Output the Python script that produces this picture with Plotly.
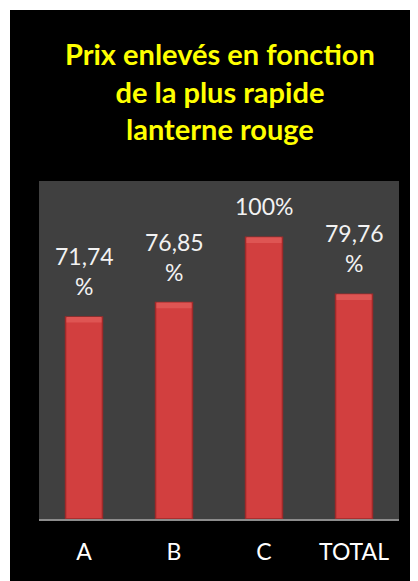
import plotly.graph_objects as go

categories = ["A", "B", "C", "TOTAL"]
values = [71.74, 76.85, 100.0, 79.76]
value_labels = ["71,74<br>%", "76,85<br>%", "100%", "79,76<br>%"]
title_text = "Prix enlevés en fonction<br>de la plus rapide<br>lanterne rouge"

W, H = 418, 581
OFF = 8  # page body margin in the browser
L, R, T, B = 39 - OFF, 19 + OFF, 181 - OFF, 62 + OFF
pw, ph = W - L - R, H - T - B
YMAX = 120
cap = 2.0  # bevel cap height in data units

fig = go.Figure()
fig.add_trace(go.Bar(
    x=categories, y=values, width=0.41,
    marker=dict(color="#d23f3f", line=dict(color="#9e2a2a", width=1.5)),
    hoverinfo="skip",
))
fig.add_trace(go.Bar(
    x=categories, y=[cap] * len(values), base=[v - cap for v in values], width=0.39,
    marker=dict(color="#de5553", line=dict(width=0)),
    hoverinfo="skip",
))

for c, v, t in zip(categories, values, value_labels):
    fig.add_annotation(x=c, y=v, text=t, showarrow=False, yanchor="bottom",
                       yshift=15, font=dict(family="Lato", size=23, color="#f2f2f2"))

fig.update_layout(
    width=W, height=H,
    paper_bgcolor="black", plot_bgcolor="#404040",
    margin=dict(l=L, r=R, t=T, b=B, autoexpand=False),
    showlegend=False, barmode="overlay",
    title=dict(text="<b>" + title_text + "</b>", x=0.507, xanchor="center",
               y=1 - 57 / H, yanchor="top",
               font=dict(family="Lato", size=29, color="#ffff00")),
    shapes=[
        dict(type="rect", xref="paper", yref="paper",
             x0=-L / pw, x1=(2 - L) / pw,
             y0=-B / ph, y1=1 + T / ph,
             fillcolor="white", line=dict(width=0)),
        dict(type="rect", xref="paper", yref="paper",
             x0=-L / pw, x1=1 + R / pw,
             y0=1 + (T - 2) / ph, y1=1 + T / ph,
             fillcolor="white", line=dict(width=0)),
    ],
)
fig.update_xaxes(showline=True, linecolor="#8c8c8c", linewidth=2,
                 tickfont=dict(family="Lato", size=23, color="white"),
                 ticks="", ticklabelstandoff=11, showgrid=False)
fig.update_yaxes(range=[0, YMAX], visible=False, showgrid=False)

fig.write_html("out.html")
